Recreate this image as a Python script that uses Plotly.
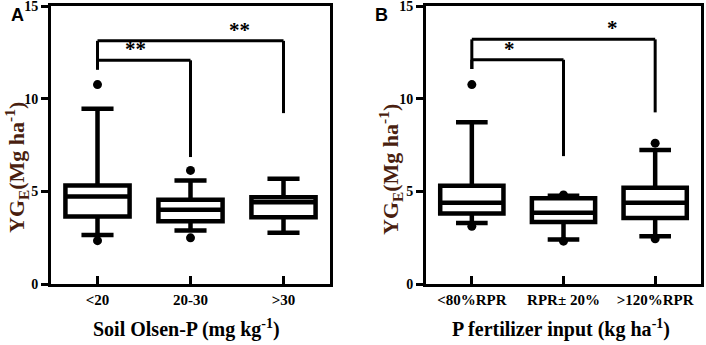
import plotly.graph_objects as go

# ---------------- data ----------------
cats_a = ["<20", "20-30", ">30"]
lower_a = [2.65, 2.88, 2.76]
q1_a = [3.64, 3.39, 3.60]
med_a = [4.72, 4.00, 4.41]
q3_a = [5.32, 4.54, 4.68]
upper_a = [9.46, 5.59, 5.68]
out_x_a = [0, 0, 1, 1]
out_y_a = [10.76, 2.34, 6.13, 2.49]

cats_b = ["<80%RPR", "RPR\u00b1 20%", ">120%RPR"]
lower_b = [3.29, 2.40, 2.57]
q1_b = [3.80, 3.35, 3.56]
med_b = [4.39, 3.85, 4.39]
q3_b = [5.30, 4.63, 5.19]
upper_b = [8.73, 4.76, 7.23]
out_x_b = [0, 0, 1, 1, 2, 2]
out_y_b = [10.76, 3.11, 4.80, 2.31, 7.60, 2.44]

# significance comparisons: (from, to, bar level, left leg bottom, right leg bottom, label)
sig_a = [(0, 1, 12.07, 11.57, 6.85, "**"), (0, 2, 13.12, 11.57, 9.22, "**")]
sig_b = [(0, 1, 12.10, 11.60, 6.90, "*"), (0, 2, 13.20, 11.60, 9.26, "*")]

y_ticks = [0, 5, 10, 15]

SERIF = "Liberation Serif, Times New Roman, serif"
TITLE_COLOR = "#4a1f10"

fig = go.Figure()

def add_panel(xa, ya, cats, lo, q1, med, q3, up, ox, oy):
    xs = list(range(len(cats)))
    for i in xs:
        fig.add_trace(go.Box(
            x=[i], q1=[q1[i]], median=[med[i]], q3=[q3[i]],
            lowerfence=[lo[i]], upperfence=[up[i]],
            width=0.69, whiskerwidth=0.5, boxpoints=False,
            line=dict(color="black", width=4.5), fillcolor="white",
            xaxis=xa, yaxis=ya, showlegend=False, hoverinfo="skip"))
    fig.add_trace(go.Scatter(
        x=ox, y=oy, mode="markers",
        marker=dict(color="black", size=9),
        xaxis=xa, yaxis=ya, showlegend=False, hoverinfo="skip"))

add_panel("x", "y", cats_a, lower_a, q1_a, med_a, q3_a, upper_a, out_x_a, out_y_a)
add_panel("x2", "y2", cats_b, lower_b, q1_b, med_b, q3_b, upper_b, out_x_b, out_y_b)

def add_sig(xref, yref, sigs, star_size):
    for (i, j, lvl, lb, rb, lab) in sigs:
        fig.add_shape(type="line", xref=xref, yref=yref, x0=i, x1=i, y0=lb, y1=lvl,
                      line=dict(color="black", width=3))
        fig.add_shape(type="line", xref=xref, yref=yref, x0=i, x1=j, y0=lvl, y1=lvl,
                      line=dict(color="black", width=3))
        fig.add_shape(type="line", xref=xref, yref=yref, x0=j, x1=j, y0=rb, y1=lvl,
                      line=dict(color="black", width=3))
        fig.add_annotation(xref=xref, yref=yref, x=(i + j) / 2 - (0.09 if j == 1 else -0.53),
                           y=lvl, text=lab, showarrow=False, yanchor="bottom", yshift=-3,
                           font=dict(family=SERIF, size=star_size, color="black", weight="bold"))

add_sig("x", "y", sig_a, 21)
add_sig("x2", "y2", sig_b, 21)

axis_common = dict(
    range=[-0.5, 2.5], showline=True, linewidth=3, linecolor="black", mirror=True,
    ticks="inside", ticklen=8, tickwidth=2.5, tickcolor="black", showgrid=False, zeroline=False,
    tickfont=dict(family=SERIF, size=15, color="black", weight="bold"),
    tickvals=[0, 1, 2], fixedrange=True, automargin=False, ticklabeloverflow="allow")
yaxis_common = dict(
    range=[0, 15], showline=True, linewidth=3, linecolor="black", mirror=True,
    ticks="outside", ticklen=7, tickwidth=2.5, tickcolor="black", showgrid=False, zeroline=False,
    tickvals=y_ticks, tickfont=dict(family=SERIF, size=14, color="black", weight="bold"),
    fixedrange=True, automargin=False, ticklabeloverflow="allow")

W, H = 706, 345
fig.update_layout(
    width=W, height=H, margin=dict(l=0, r=0, t=0, b=0, autoexpand=False),
    paper_bgcolor="white", plot_bgcolor="white",
    xaxis=dict(axis_common, domain=[51 / W, 330 / W], ticktext=cats_a, anchor="y"),
    yaxis=dict(yaxis_common, domain=[1 - 284 / H, 1 - 6 / H], anchor="x"),
    xaxis2=dict(axis_common, domain=[426 / W, 701 / W], ticktext=cats_b, anchor="y2"),
    yaxis2=dict(yaxis_common, domain=[1 - 284 / H, 1 - 6 / H], anchor="x2"),
)

ytitle = "YG<sub>E</sub>(Mg ha<sup>-1</sup>)"
for (xp, yp) in [(16, 168), (390, 170)]:
    fig.add_annotation(xref="paper", yref="paper", x=xp / W, y=1 - yp / H, text=ytitle,
                       textangle=-90, showarrow=False, xanchor="center", yanchor="middle",
                       font=dict(family=SERIF, size=22, color=TITLE_COLOR, weight="bold"))
for (xp, txt) in [(186, "Soil Olsen-P (mg kg<sup>-1</sup>)"), (561, "P fertilizer input (kg ha<sup>-1</sup>)")]:
    fig.add_annotation(xref="paper", yref="paper", x=xp / W, y=1 - 328 / H, text=txt,
                       showarrow=False, xanchor="center", yanchor="middle",
                       font=dict(family=SERIF, size=20, color="black", weight="bold"))
for (xp, txt) in [(17, "A"), (381, "B")]:
    fig.add_annotation(xref="paper", yref="paper", x=xp / W, y=1 - 15 / H, text=txt,
                       showarrow=False, xanchor="center", yanchor="middle",
                       font=dict(family="Liberation Sans, Arial, sans-serif", size=18, color="black", weight="bold"))

fig.write_html("out.html", config={"displayModeBar": False},
               post_script="document.body.style.margin='0px';document.body.style.overflow='hidden';")
